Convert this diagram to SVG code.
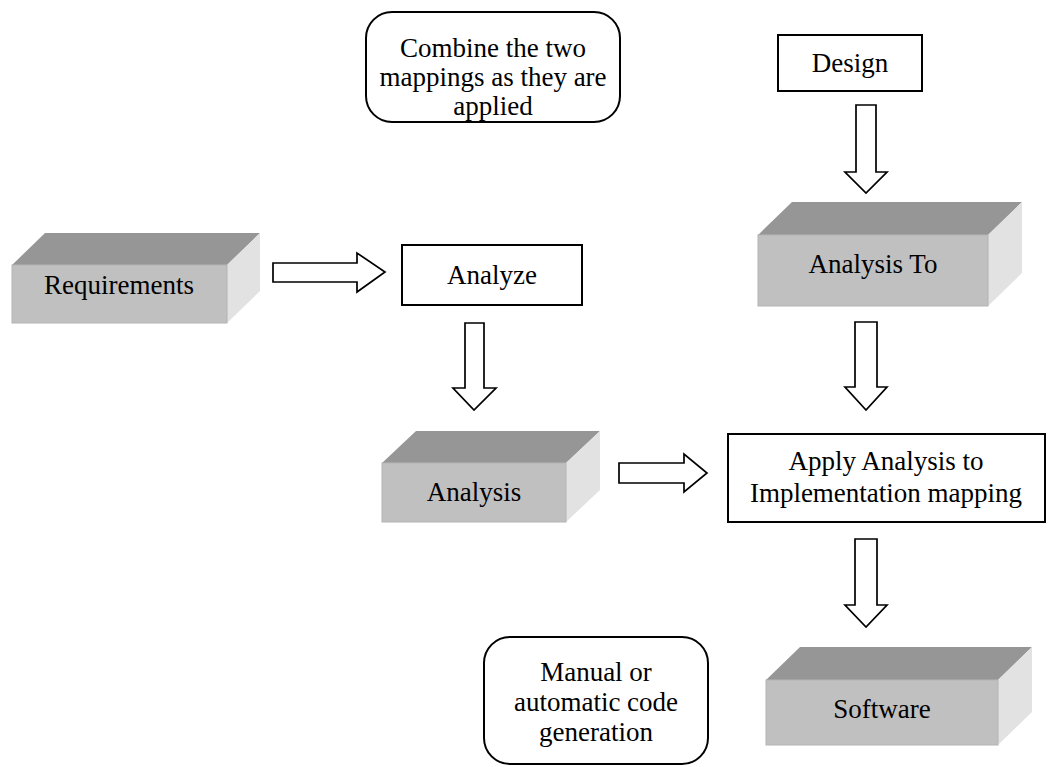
<svg xmlns="http://www.w3.org/2000/svg" width="1057" height="767" viewBox="0 0 1057 767">
  <style>
    text { font-family: "Liberation Serif", "Times New Roman", serif; font-size: 27px; fill: #000; text-anchor: middle; }
    .box { fill: #fff; stroke: #000; stroke-width: 2; }
    .note { fill: #fff; stroke: #000; stroke-width: 2; }
    .top { fill: #969696; }
    .front { fill: #c0c0c0; stroke: #b4b4b4; stroke-width: 1; }
    .side { fill: #e2e2e2; }
    .arrow { fill: #fff; stroke: #000; stroke-width: 1.7; stroke-linejoin: miter; }
  </style>

  <!-- block arrows -->
  <g id="connectors">
    <path class="arrow" d="M273,263 H357 V253 L385,272 L357,292 V282 H273 Z"/>
    <path class="arrow" d="M619,463 H684 V454 L707,473 L684,492 V483 H619 Z"/>
    <path class="arrow" d="M856,105 H876 V172 H887 L866,193 L845,172 H856 Z"/>
    <path class="arrow" d="M465,323 H484 V388 H496 L474,410 L453,388 H465 Z"/>
    <path class="arrow" d="M855,322 H877 V387 H887 L866,410 L845,387 H855 Z"/>
    <path class="arrow" d="M855,539 H877 V605 H887 L866,627 L845,605 H855 Z"/>
  </g>

  <!-- notes -->
  <g id="note-combine">
    <rect class="note" x="366" y="12" width="254" height="110" rx="26" ry="26"/>
    <text x="493" y="57">Combine the two</text>
    <text x="493" y="86">mappings as they are</text>
    <text x="493" y="115">applied</text>
  </g>
  <g id="note-codegen">
    <rect class="note" x="484" y="637" width="224" height="127" rx="26" ry="26"/>
    <text x="596" y="681">Manual or</text>
    <text x="596" y="711">automatic code</text>
    <text x="596" y="741">generation</text>
  </g>

  <!-- process boxes -->
  <g id="design">
    <rect class="box" x="778" y="35" width="144" height="56"/>
    <text x="850" y="72">Design</text>
  </g>
  <g id="analyze">
    <rect class="box" x="402" y="245" width="180" height="60"/>
    <text x="492" y="284">Analyze</text>
  </g>
  <g id="apply">
    <rect class="box" x="728" y="434" width="317" height="88"/>
    <text x="886" y="470">Apply Analysis to</text>
    <text x="886" y="502">Implementation mapping</text>
  </g>

  <!-- 3D blocks -->
  <g id="requirements">
    <path class="top" d="M12,265 L45,233 L260,233 L227,265 Z"/>
    <path class="side" d="M227,265 L260,233 L260,291 L227,323 Z"/>
    <rect class="front" x="12" y="265" width="215" height="58"/>
    <text x="119" y="294">Requirements</text>
  </g>
  <g id="analysis">
    <path class="top" d="M382,463 L416,431 L600,431 L566,463 Z"/>
    <path class="side" d="M566,463 L600,431 L600,490 L566,522 Z"/>
    <rect class="front" x="382" y="463" width="184" height="59"/>
    <text x="474" y="501">Analysis</text>
  </g>
  <g id="analysis-to">
    <path class="top" d="M758,235 L792,202 L1022,202 L988,235 Z"/>
    <path class="side" d="M988,235 L1022,202 L1022,273 L988,306 Z"/>
    <rect class="front" x="758" y="235" width="230" height="71"/>
    <text x="873" y="273">Analysis To</text>
  </g>
  <g id="software">
    <path class="top" d="M766,680 L800,647 L1032,647 L998,680 Z"/>
    <path class="side" d="M998,680 L1032,647 L1032,712 L998,745 Z"/>
    <rect class="front" x="766" y="680" width="232" height="65"/>
    <text x="882" y="718">Software</text>
  </g>
</svg>
